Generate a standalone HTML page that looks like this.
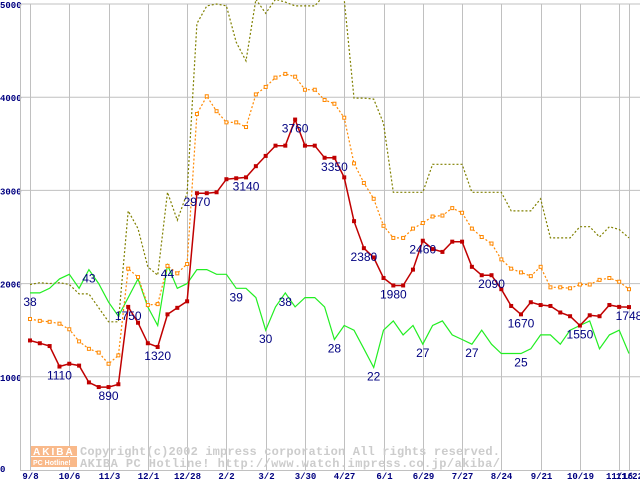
<!DOCTYPE html>
<html><head><meta charset="utf-8"><style>
html,body{margin:0;padding:0;background:#fff;width:640px;height:480px;overflow:hidden}
svg{display:block}
.ax{font-family:"Liberation Mono",monospace;font-weight:bold;font-size:9px;fill:#000080}
.lbl{font-family:"Liberation Sans",sans-serif;font-size:12px;fill:#000080}
.wm{font-family:"Liberation Mono",monospace;font-weight:bold;font-size:12px;fill:#cccccc}
</style></head><body>
<svg id="chart" width="640" height="480">
<defs><clipPath id="plot"><rect x="20" y="0" width="620" height="470"/></clipPath></defs>
<g id="grid"></g>
<g id="wm">
<rect x="31" y="446" width="46" height="10" fill="#f9b98a"/>
<text x="33" y="455" font-family="Liberation Sans,sans-serif" font-weight="bold" font-size="10" fill="#fff" letter-spacing="2">AKIBA</text>
<rect x="31" y="457" width="46" height="10" fill="#f9b98a"/>
<text x="33" y="465" font-family="Liberation Sans,sans-serif" font-weight="bold" font-size="7" fill="#fff">PC Hotline!</text>
<text class="wm" x="80" y="455" textLength="420">Copyright(c)2002 impress corporation All rights reserved.</text>
<text class="wm" x="80" y="467" textLength="420">AKIBA PC Hotline!  http://www.watch.impress.co.jp/akiba/</text>
</g>
<g id="series" clip-path="url(#plot)"></g>
<g id="labels"></g>
<g id="axes"></g>
</svg>
<script>
const dateLabels=["9/8","10/6","11/3","12/1","12/28","2/2","3/2","3/30","4/27","6/1","6/29","7/27","8/24","9/21","10/19","11/16","11/22"];
const dateIdx=[0,4,8,12,16,20,24,28,32,36,40,44,48,52,56,60,61];
const yTicks=[0,1000,2000,3000,4000,5000];
const redVals=[1390,1360,1330,1110,1140,1120,940,890,890,920,1750,1580,1360,1320,1670,1740,1810,2970,2970,2980,3120,3130,3140,3260,3370,3480,3480,3760,3480,3480,3350,3350,3140,2670,2380,2280,2060,1980,1980,2150,2460,2370,2340,2450,2450,2180,2090,2090,1940,1760,1670,1800,1770,1760,1690,1650,1550,1660,1650,1770,1750,1748];
const orangeVals=[1620,1600,1590,1570,1510,1380,1300,1260,1140,1230,2160,2070,1770,1780,2190,2110,2210,3820,4010,3850,3730,3730,3680,4030,4110,4210,4250,4220,4080,4080,3970,3930,3780,3290,3080,2910,2620,2490,2490,2590,2650,2720,2730,2810,2760,2590,2500,2430,2260,2160,2120,2080,2180,1960,1960,1950,1990,1990,2040,2060,2020,1940];
const oliveVals=[1990,2010,2000,2010,1990,1890,1890,1740,1590,1590,2780,2590,2180,2090,2980,2680,2970,4790,4980,5000,4980,4590,4390,5050,4900,5050,5020,4980,4980,4980,5100,5100,5050,3990,3990,3980,3720,2980,2980,2980,2980,3280,3280,3280,3280,2980,2980,2980,2980,2780,2780,2780,2910,2490,2490,2490,2610,2610,2500,2610,2580,2490];
const greenCounts=[38,38,39,41,42,39,43,40,36,33,37,41,35,31,44,39,40,43,43,42,42,39,39,37,30,35,38,35,37,37,35,28,31,30,26,22,30,32,29,31,27,31,32,29,28,27,30,27,25,25,25,26,29,29,27,30,31,32,26,29,30,25];
const greenScale=50;
const redLabelIdx=[3,8,10,13,17,22,27,31,34,37,40,47,50,56,61];
const greenLabelIdx=[0,6,14,21,24,26,31,35,40,45,50];

const NS="http://www.w3.org/2000/svg";
const X0=30,X1=629,Y0=470,YTOP=4,N=redVals.length;
const xs=i=>X0+i*(X1-X0)/(N-1);
const ys=v=>Y0-v*(Y0-YTOP)/5000;
function mk(tag,attrs,parent){const e=document.createElementNS(NS,tag);for(const k in attrs)e.setAttribute(k,attrs[k]);parent.appendChild(e);return e;}
const grid=document.getElementById('grid'),axes=document.getElementById('axes'),ser=document.getElementById('series'),lab=document.getElementById('labels');
yTicks.forEach(t=>{
  if(t>0){const l=mk('line',{x1:20,x2:640,y1:ys(t),y2:ys(t),stroke:'#c0c0c0','stroke-width':1},grid);
  
  }
  const tx=mk('text',{x:0,y:t===0?ys(t)+2:ys(t)+4,class:'ax'},axes);tx.textContent=t;
  
  
});
dateIdx.forEach((di,k)=>{
  const x=Math.round(xs(di))+0.5;
  const l=mk('line',{x1:x,x2:x,y1:YTOP,y2:Y0,stroke:'#c0c0c0','stroke-width':1},grid);
  
  
  const tx=mk('text',{x:x,y:479,class:'ax','text-anchor':'middle'},axes);tx.textContent=dateLabels[k];
  
  
});
const ya=mk('line',{x1:20.5,x2:20.5,y1:YTOP,y2:Y0,stroke:'#c0c0c0'},axes);


const xa=mk('line',{x1:20,x2:640,y1:Y0+0.5,y2:Y0+0.5,stroke:'#c0c0c0'},axes);


function pts(vals,scale){return vals.map((v,i)=>xs(i).toFixed(1)+','+ys(v*scale).toFixed(1)).join(' ');}
const ol=mk('polyline',{points:pts(oliveVals,1),fill:'none',stroke:'#808000','stroke-width':1.2,'stroke-dasharray':'2,2'},ser);


const gl=mk('polyline',{points:pts(greenCounts,greenScale),fill:'none',stroke:'#22ee22','stroke-width':1.2},ser);


const orl=mk('polyline',{points:pts(orangeVals,1),fill:'none',stroke:'#ff8800','stroke-width':1.2,'stroke-dasharray':'2,2'},ser);


orangeVals.forEach((v,i)=>{const r=mk('rect',{x:xs(i)-1.5,y:ys(v)-1.5,width:3,height:3,fill:'#fff',stroke:'#ff8800','stroke-width':1},ser);
  
  });
const rl=mk('polyline',{points:pts(redVals,1),fill:'none',stroke:'#c00000','stroke-width':1.5},ser);


redVals.forEach((v,i)=>{const r=mk('rect',{x:xs(i)-2,y:ys(v)-2,width:4,height:4,fill:'#c00000'},ser);
  
  });
redLabelIdx.forEach(i=>{const t=mk('text',{x:xs(i),y:ys(redVals[i])+13,class:'lbl','text-anchor':'middle'},lab);t.textContent=redVals[i];
  
  });
greenLabelIdx.forEach(i=>{const t=mk('text',{x:xs(i),y:ys(greenCounts[i]*greenScale)+13,class:'lbl','text-anchor':'middle'},lab);t.textContent=greenCounts[i];
  
  });
</script>
</body></html>
